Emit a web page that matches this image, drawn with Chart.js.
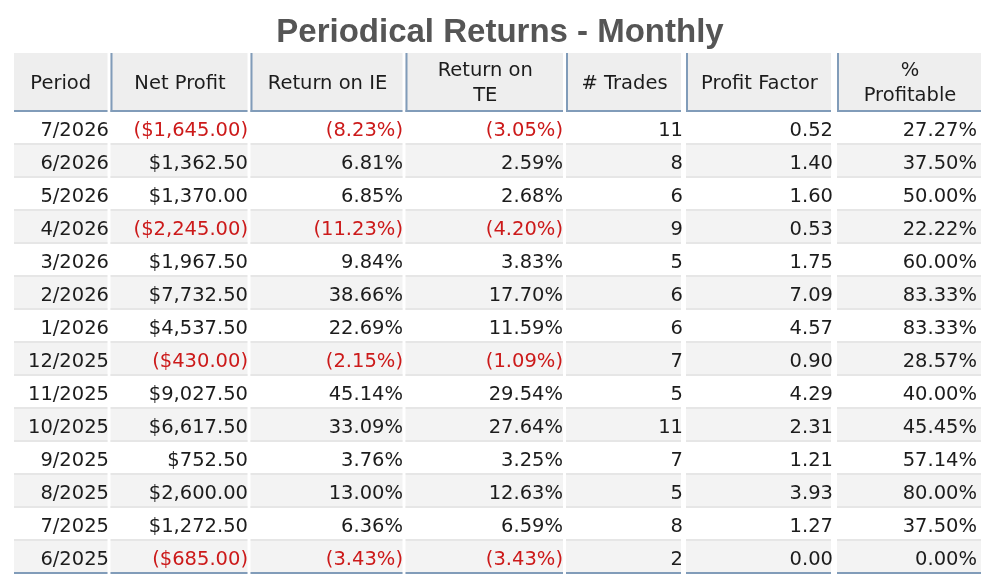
<!DOCTYPE html>
<html>
<head>
<meta charset="utf-8">
<script src="https://cdn.jsdelivr.net/npm/chart.js@4.4.1/dist/chart.umd.min.js"></script>
<style>
  html, body { margin: 0; padding: 0; background: #fff; }
  #wrap { width: 1000px; height: 588px; }
</style>
</head>
<body>
<div id="wrap"><canvas id="myChart"></canvas></div>
<script>
"use strict";

// table data, newest month first
const periods = ["7/2026", "6/2026", "5/2026", "4/2026", "3/2026", "2/2026", "1/2026",
  "12/2025", "11/2025", "10/2025", "9/2025", "8/2025", "7/2025", "6/2025"];
const netProfit = [-1645, 1362.5, 1370, -2245, 1967.5, 7732.5, 4537.5,
  -430, 9027.5, 6617.5, 752.5, 2600, 1272.5, -685];
const returnOnIE = [-8.23, 6.81, 6.85, -11.23, 9.84, 38.66, 22.69,
  -2.15, 45.14, 33.09, 3.76, 13.0, 6.36, -3.43];
const returnOnTE = [-3.05, 2.59, 2.68, -4.2, 3.83, 17.7, 11.59,
  -1.09, 29.54, 27.64, 3.25, 12.63, 6.59, -3.43];
const trades = [11, 8, 6, 9, 5, 6, 6, 7, 5, 11, 7, 5, 8, 2];
const profitFactor = [0.52, 1.4, 1.6, 0.53, 1.75, 7.09, 4.57, 0.9, 4.29, 2.31, 1.21, 3.93, 1.27, 0.0];
const pctProfitable = [27.27, 37.5, 50.0, 22.22, 60.0, 83.33, 83.33, 28.57, 40.0, 45.45, 57.14, 80.0, 37.5, 0.0];
const headers = [["Period"], ["Net Profit"], ["Return on IE"], ["Return on", "TE"],
  ["# Trades"], ["Profit Factor"], ["%", "Profitable"]];

const RED = "#cc1a1a";
const INK = "#1c1c1c";
const BLUE = "#819cb9";

const money = (v) => {
  const s = "$" + Math.abs(v).toLocaleString("en-US", { minimumFractionDigits: 2, maximumFractionDigits: 2 });
  return v < 0 ? "(" + s + ")" : s;
};
const pct = (v) => (v < 0 ? "(" + Math.abs(v).toFixed(2) + "%)" : v.toFixed(2) + "%");

const columns = [
  { text: periods, neg: periods.map(() => false) },
  { text: netProfit.map(money), neg: netProfit.map((v) => v < 0) },
  { text: returnOnIE.map(pct), neg: returnOnIE.map((v) => v < 0) },
  { text: returnOnTE.map(pct), neg: returnOnTE.map((v) => v < 0) },
  { text: trades.map(String), neg: trades.map(() => false) },
  { text: profitFactor.map((v) => v.toFixed(2)), neg: profitFactor.map(() => false) },
  { text: pctProfitable.map((v) => v.toFixed(2) + "%"), neg: pctProfitable.map(() => false) },
];

// cell layout in x-scale units
const cellLeft = [14, 110.5, 250.5, 405.5, 566, 686, 837];
const cellRight = [107.5, 247.5, 402.5, 563, 681, 831, 981];
const textRight = [109, 248, 403, 563, 683, 833, 977];

const tablePlugin = {
  id: "table",
  afterDraw(chart) {
    const { ctx, scales: { x, y } } = chart;
    const band = y.getPixelForValue(1) - y.getPixelForValue(0);
    const bodyTop = y.getPixelForValue(0) - band / 2;
    const headTop = bodyTop - 59;
    ctx.save();

    // header cells
    headers.forEach((lines, c) => {
      const l = x.getPixelForValue(cellLeft[c]);
      const r = x.getPixelForValue(cellRight[c]);
      ctx.fillStyle = "#eeeeee";
      ctx.fillRect(l, headTop, r - l, bodyTop - headTop);
      ctx.fillStyle = BLUE;
      ctx.fillRect(l, bodyTop - 2, r - l, 2);
      if (c > 0) ctx.fillRect(l, headTop, 2, bodyTop - headTop);
      ctx.fillStyle = INK;
      ctx.font = "19.5px 'DejaVu Sans'";
      ctx.textAlign = "center";
      ctx.textBaseline = "alphabetic";
      const cx = (l + r) / 2 + (c > 0 ? 1 : 0);
      if (lines.length === 1) {
        ctx.fillText(lines[0], cx, headTop + 36);
      } else {
        ctx.fillText(lines[0], cx, headTop + 23);
        ctx.fillText(lines[1], cx, headTop + 48);
      }
    });

    // body rows
    periods.forEach((p, i) => {
      const mid = y.getPixelForValue(i);
      const top = mid - band / 2;
      const last = i === periods.length - 1;
      columns.forEach((col, c) => {
        const l = x.getPixelForValue(cellLeft[c]);
        const r = x.getPixelForValue(cellRight[c]);
        if (i % 2 === 1) {
          ctx.fillStyle = "#f3f3f3";
          ctx.fillRect(l, top, r - l, band);
        }
        ctx.fillStyle = last ? BLUE : "#e6e6e6";
        ctx.fillRect(l, top + band - 2, r - l, 2);
        ctx.fillStyle = col.neg[i] ? RED : INK;
        ctx.font = "19.5px 'DejaVu Sans'";
        ctx.textAlign = "right";
        ctx.textBaseline = "alphabetic";
        ctx.fillText(col.text[i], x.getPixelForValue(textRight[c]), mid + 7);
      });
    });
    ctx.restore();
  },
};

new Chart("myChart", {
  type: "bar",
  data: {
    labels: periods,
    datasets: [],
  },
  options: {
    indexAxis: "y",
    responsive: true,
    maintainAspectRatio: false,
    animation: false,
    layout: { padding: { top: 0, left: 0, right: 0, bottom: 14 } },
    plugins: {
      legend: { display: false },
      tooltip: { enabled: false },
      title: {
        display: true,
        text: "Periodical Returns - Monthly",
        color: "#555555",
        font: { family: "'Liberation Sans', Arial, sans-serif", size: 33, weight: "bold", lineHeight: 1.2 },
        padding: { top: 13.5, bottom: 58.9 },
      },
    },
    scales: {
      x: { type: "linear", min: 0, max: 1000, display: false },
      y: { type: "category", offset: true, display: false },
    },
  },
  plugins: [tablePlugin],
});
</script>
</body>
</html>
